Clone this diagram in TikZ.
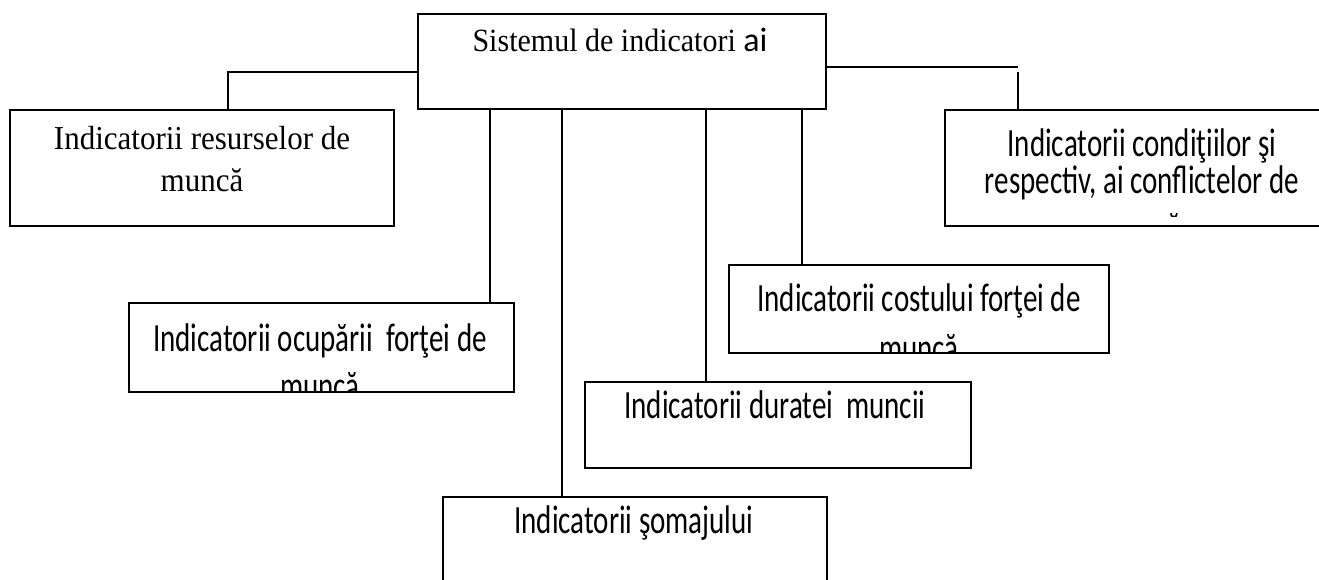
\documentclass[tikz,border=0pt]{standalone}
\usepackage{fontspec}
\setmainfont{Liberation Serif}
\newfontfamily\calfont{Carlito}
\newcommand\vs[1]{\smash{\scalebox{1}[1.38]{#1}}}
\newcommand\vt[1]{\smash{\scalebox{1}[1.08]{#1}}}
\begin{document}
\begin{tikzpicture}[x=1pt,y=-1pt,
  box/.style={draw=black,line width=1.4pt,inner sep=0pt,outer sep=0pt,anchor=north west},
  link/.style={draw=black,line width=1.4pt},
  serif/.style={inner sep=0pt,anchor=base,font=\fontsize{31}{41.7}\selectfont},
  sans/.style={inner sep=0pt,anchor=base,font=\calfont\fontsize{29}{48}\selectfont}]
\useasboundingbox (0,0) rectangle (1319,580);
\clip (0,0) rectangle (1319,580);
% boxes
\node[box,minimum width=408,minimum height=95] (b0) at (418,14) {};
\node[box,minimum width=384,minimum height=116] (b1) at (10,110) {};
\node[box,minimum width=385,minimum height=89] (b2) at (129,303) {};
\node[box,minimum width=384,minimum height=100] (b3) at (443,497) {};
\node[box,minimum width=386,minimum height=86] (b4) at (585,382) {};
\node[box,minimum width=380,minimum height=88] (b5) at (729,265) {};
\node[box,minimum width=396,minimum height=116] (b6) at (945,110) {};
% texts (clipped to their boxes)
\begin{scope}\clip (b0.north west) rectangle (b0.south east);
\node[inner sep=0pt,anchor=base] (t0) at (620,52) {\fontsize{30}{36}\selectfont\vt{Sistemul de indicatori} {\calfont\fontsize{34}{40}\selectfont ai}};
\end{scope}
\begin{scope}\clip (b1.north west) rectangle (b1.south east);
\node[serif] (t1) at (202,150) {\begin{tabular}[t]{@{}c@{}}\vt{Indicatorii resurselor de}\\ \vt{muncă}\end{tabular}};
\end{scope}
\begin{scope}\clip ([yshift=1.5pt]b2.north west) rectangle ([yshift=1.5pt]b2.south east);
\node[sans] (t2) at (320,351.7) {\begin{tabular}[t]{@{}c@{}}\vs{Indicatorii ocupării\ \ forţei de}\\ \vs{muncă}\end{tabular}};
\end{scope}
\begin{scope}\clip (b3.north west) rectangle (b3.south east);
\node[sans] (t3) at (634,533.3) {\vs{Indicatorii şomajului}};
\end{scope}
\begin{scope}\clip (b4.north west) rectangle (b4.south east);
\node[sans] (t4) at (775,418.3) {\vs{Indicatorii duratei\ \ muncii}};
\end{scope}
\begin{scope}\clip ([yshift=1.5pt]b5.north west) rectangle ([yshift=1.5pt]b5.south east);
\node[sans,font=\calfont\fontsize{29}{50}\selectfont] (t5) at (919,311.7) {\begin{tabular}[t]{@{}c@{}}\vs{Indicatorii costului forţei de}\\ \vs{muncă}\end{tabular}};
\end{scope}
\begin{scope}\clip ([yshift=10pt]b6.north west) rectangle ([yshift=10pt]b6.south east);
\node[sans,font=\calfont\fontsize{29}{36.6}\selectfont] (t6) at (1142,156.7) {\begin{tabular}[t]{@{}c@{}}\vs{Indicatorii condiţiilor şi}\\ \vs{respectiv, ai conflictelor de}\\[10.5pt] \vs{muncă}\end{tabular}};
\end{scope}
% connectors
\draw[link] (b0.west |- 0,72) -| (228,0 |- b1.north);
\draw[link] (b0.east |- 0,67) -- (1018,67);
\coordinate (rc) at (1018,72);
\draw[link] (rc) -- (rc |- b6.north);
\draw[link] (490,0 |- b0.south) -- (490,0 |- b2.north);
\draw[link] (562,0 |- b0.south) -- (562,0 |- b3.north);
\draw[link] (706,0 |- b0.south) -- (706,0 |- b4.north);
\draw[link] (802,0 |- b0.south) -- (802,0 |- b5.north);
\end{tikzpicture}
\end{document}
